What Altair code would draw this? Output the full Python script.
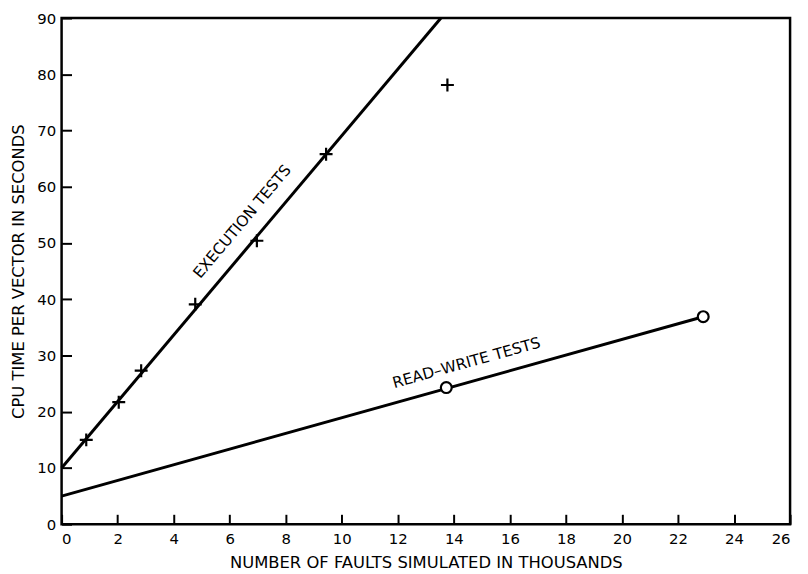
import altair as alt
import pandas as pd

# Measured data points (thousands of faults, seconds)
exec_x = [0.88, 2.04, 2.84, 4.77, 6.97, 9.44]
exec_y = [15.0, 21.7, 27.3, 39.1, 50.4, 65.8]
outlier_x = [13.77]
outlier_y = [78.1]
exec_line_x = [0.0, 13.54]
exec_line_y = [10.0, 90.0]

rw_x = [13.73, 22.9]
rw_y = [24.3, 36.9]
rw_line_x = [0.0, 22.9]
rw_line_y = [5.0, 36.9]

label_text = ["EXECUTION TESTS", "READ\u2013WRITE TESTS"]
label_x = [6.45, 14.45]
label_y = [53.8, 28.7]
label_angle = [310, 344.4]

x_ticks = list(range(0, 27, 2))
y_ticks = list(range(0, 91, 10))

FONT = "DejaVu Sans"

xs = alt.Scale(domain=[0, 26], nice=False, zero=False)
ys = alt.Scale(domain=[0, 90], nice=False, zero=False)

x_axis = alt.Axis(values=x_ticks, grid=False, domain=False, tickSize=10, tickWidth=2,
                  tickColor="black", offset=-10, labelPadding=7, labelFontSize=15,
                  labelFont=FONT, labelColor="black",
                  title="NUMBER OF FAULTS SIMULATED IN THOUSANDS", titleFont=FONT,
                  titleFontSize=16.5, titleFontWeight="normal", titleColor="black",
                  titlePadding=9)
y_axis = alt.Axis(values=y_ticks, grid=False, domain=False, tickSize=10, tickWidth=2,
                  tickColor="black", offset=-10, labelPadding=6, labelFontSize=15,
                  labelFont=FONT, labelColor="black",
                  title="CPU TIME PER VECTOR IN SECONDS", titleFont=FONT,
                  titleFontSize=16.5, titleFontWeight="normal", titleColor="black",
                  titlePadding=10)

exec_line_df = pd.DataFrame({"x": exec_line_x, "y": exec_line_y})
rw_line_df = pd.DataFrame({"x": rw_line_x, "y": rw_line_y})
exec_df = pd.DataFrame({"x": exec_x + outlier_x, "y": exec_y + outlier_y})
rw_df = pd.DataFrame({"x": rw_x, "y": rw_y})
lab_df = pd.DataFrame({"t": label_text, "x": label_x, "y": label_y, "a": label_angle})

base_line = alt.Chart(exec_line_df).mark_line(color="black", strokeWidth=3).encode(
    x=alt.X("x:Q", scale=xs, axis=x_axis),
    y=alt.Y("y:Q", scale=ys, axis=y_axis),
)
rw_line = alt.Chart(rw_line_df).mark_line(color="black", strokeWidth=3).encode(
    x=alt.X("x:Q", scale=xs), y=alt.Y("y:Q", scale=ys)
)
plus_pts = alt.Chart(exec_df).mark_point(
    shape="M-1,0L1,0M0,-1L0,1", size=170, stroke="black", strokeWidth=2.2, filled=False, opacity=1
).encode(x=alt.X("x:Q", scale=xs), y=alt.Y("y:Q", scale=ys))
circ_pts = alt.Chart(rw_df).mark_point(
    shape="circle", size=120, stroke="black", strokeWidth=2.2, fill="white", filled=True, opacity=1
).encode(x=alt.X("x:Q", scale=xs), y=alt.Y("y:Q", scale=ys))

labels = [
    alt.Chart(lab_df.iloc[[i]]).mark_text(
        font=FONT, fontSize=15.5, color="black", align="center", baseline="middle",
        angle=float(label_angle[i])
    ).encode(x=alt.X("x:Q", scale=xs), y=alt.Y("y:Q", scale=ys), text="t:N")
    for i in range(len(label_text))
]

chart = alt.layer(base_line, rw_line, plus_pts, circ_pts, *labels).properties(
    width=734, height=510,
    background="white",
    autosize=alt.AutoSizeParams(type="none"),
    padding={"left": 54, "top": 8, "right": 10, "bottom": 46},
).configure_view(stroke="black", strokeWidth=2.5)

chart.save("out.html", embed_options={"renderer": "svg", "actions": False})
